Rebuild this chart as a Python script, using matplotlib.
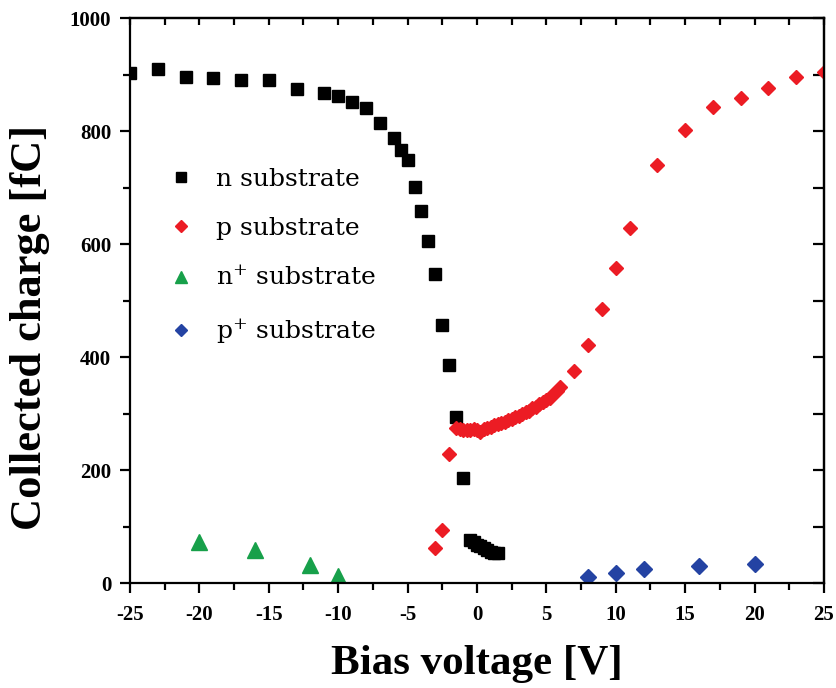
import matplotlib
matplotlib.use("Agg")
import matplotlib.pyplot as plt
from matplotlib.ticker import MultipleLocator, NullFormatter

plt.rcParams['axes.unicode_minus'] = False
plt.rcParams['mathtext.fontset'] = 'custom'
plt.rcParams['mathtext.rm'] = 'DejaVu Serif'

# n substrate (black squares)
n_x = [-25, -23, -21, -19, -17, -15, -13, -11, -10, -9, -8, -7, -6, -5.5, -5,
       -4.5, -4, -3.5, -3, -2.5, -2, -1.5, -1, -0.5, -0.25, 0, 0.25, 0.5, 0.75,
       1.0, 1.25, 1.5]
n_y = [903, 910, 896, 893, 890, 890, 875, 868, 862, 851, 840, 815, 788, 766, 749,
       701, 659, 605, 547, 457, 386, 294, 185, 76, 72, 68, 65, 62, 58,
       55, 53, 53]

# p substrate (red diamonds)
p_x = [-3, -2.5, -2,
       -1.5, -1.25, -1.0, -0.75, -0.5, -0.25, 0, 0.25, 0.5, 0.75, 1.0, 1.25, 1.5,
       1.75, 2.0, 2.25, 2.5, 2.75, 3.0, 3.25, 3.5, 3.75, 4.0, 4.25, 4.5, 4.75,
       5.0, 5.25, 5.5, 5.75, 6.0,
       7, 8, 9, 10, 11, 13, 15, 17, 19, 21, 23, 25]
p_y = [62, 94, 228,
       274, 272, 271, 271, 270, 272, 270, 268, 272, 274, 277, 279, 281,
       283, 285, 288, 290, 293, 296, 299, 302, 305, 309, 312, 316, 320,
       324, 328, 334, 340, 347,
       375, 422, 485, 558, 629, 739, 802, 842, 859, 877, 895, 905]

# n+ substrate (green triangles)
np_x = [-20, -16, -12, -10]
np_y = [73, 58, 31, 13]

# p+ substrate (blue diamonds)
pp_x = [8, 10, 12, 16, 20]
pp_y = [10, 18, 24, 30, 33]

xticks = [-25, -20, -15, -10, -5, 0, 5, 10, 15, 20, 25]
yticks = [0, 200, 400, 600, 800, 1000]

fig = plt.figure(figsize=(8.36, 6.88), dpi=100)
ax = fig.add_axes([0.1555, 0.1526, 0.8301, 0.8212])

ax.plot(n_x, n_y, ls='none', marker='s', ms=8.5, color='black', label='n substrate')
ax.plot(p_x, p_y, ls='none', marker='D', ms=7.5, color='#ec1c24', mec='#ec1c24',
        label='p substrate')
ax.plot(np_x, np_y, ls='none', marker='^', ms=11, color='#17a04a',
        label=r'n$\mathregular{^{+}}$ substrate')
ax.plot(pp_x, pp_y, ls='none', marker='D', ms=8, color='#2443a3',
        label=r'p$\mathregular{^{+}}$ substrate')

ax.set_xlim(-25, 25)
ax.set_ylim(0, 1000)
ax.set_xticks(xticks)
ax.set_yticks(yticks)
ax.set_xticklabels([str(v) for v in xticks])
ax.set_yticklabels([str(v) for v in yticks])
ax.xaxis.set_minor_locator(MultipleLocator(2.5))
ax.yaxis.set_minor_locator(MultipleLocator(100))

for s in ax.spines.values():
    s.set_linewidth(1.6)

ax.tick_params(which='major', direction='out', length=7.5, width=1.6,
               labelsize=15, pad=6)
ax.tick_params(which='minor', direction='out', length=5, width=1.6)
ax.tick_params(axis='x', which='major', pad=8)
for lab in ax.get_xticklabels() + ax.get_yticklabels():
    lab.set_fontfamily('Liberation Serif')
    lab.set_fontweight('bold')

secx = ax.secondary_xaxis('top')
secx.set_xticks(xticks)
secx.xaxis.set_minor_locator(MultipleLocator(2.5))
secx.tick_params(which='both', direction='in', length=5, width=1.6, labeltop=False)
secx.xaxis.set_major_formatter(NullFormatter())
secx.spines['top'].set_linewidth(1.6)

secy = ax.secondary_yaxis('right')
secy.set_yticks(yticks)
secy.yaxis.set_minor_locator(MultipleLocator(100))
secy.tick_params(which='both', direction='in', length=8, width=1.6, labelright=False)
secy.yaxis.set_major_formatter(NullFormatter())
secy.spines['right'].set_linewidth(1.6)

ax.set_xlabel('Bias voltage [V]', fontsize=31, fontweight='bold',
              family='Liberation Serif', labelpad=15)
ax.set_ylabel('Collected charge [fC]', fontsize=32, fontweight='bold',
              family='Liberation Serif', labelpad=14)
ax.yaxis.label.set_y(0.452)

leg = ax.legend(loc='upper left', bbox_to_anchor=(0.02, 0.775), frameon=False,
                prop={'family': 'DejaVu Serif', 'size': 18},
                handletextpad=0.8, labelspacing=1.05, handlelength=1.2,
                markerscale=0.8)

fig.savefig('out.png', dpi=100)
